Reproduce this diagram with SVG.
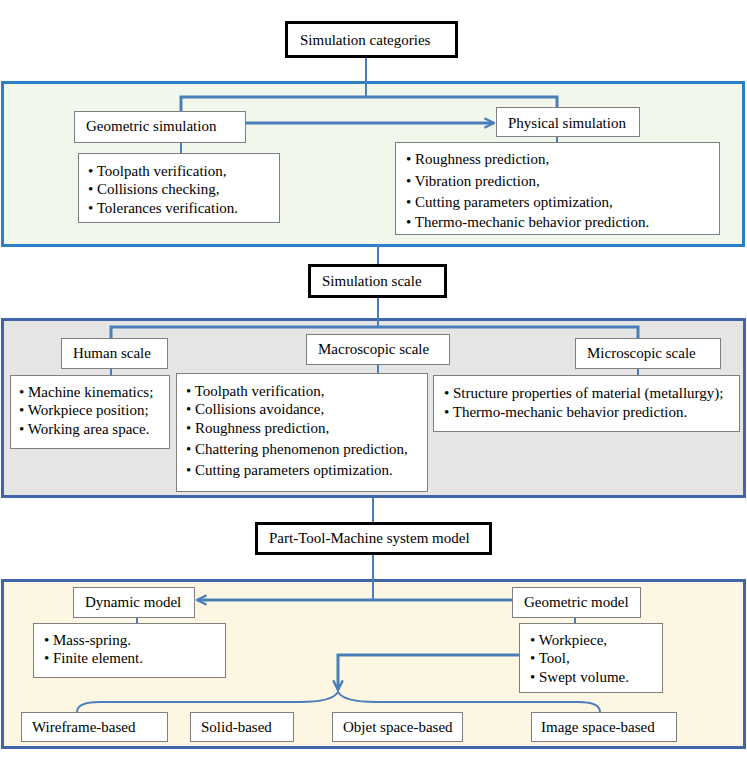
<svg xmlns="http://www.w3.org/2000/svg" width="747" height="762" viewBox="0 0 747 762">
<defs>
<marker id="ah" viewBox="0 0 10 10" refX="9" refY="5" markerWidth="4" markerHeight="4" orient="auto" markerUnits="strokeWidth">
<path d="M1,1 L9,5 L1,9" fill="none" stroke="#4a7ebb" stroke-width="2"/>
</marker>
</defs>
<style>
text{font-family:"Liberation Serif","Times New Roman",serif;font-size:15px;fill:#000}
.title{fill:#fff;stroke:#000;stroke-width:3}
.box{fill:#fff;stroke:#7f7f7f;stroke-width:1}
.con{fill:none;stroke:#4a7ebb;stroke-width:3}
.thin{fill:none;stroke:#4a7ebb;stroke-width:2}
</style>
<rect width="747" height="762" fill="#fff"/>
<g id="container-categories"><rect x="2.5" y="82.5" width="741" height="163" fill="#f2f7ec" stroke="#2b7fc9" stroke-width="3"/></g>
<g id="container-scale"><rect x="2.5" y="319.5" width="742" height="177" fill="#e5e5e5" stroke="#3e66a8" stroke-width="3"/></g>
<g id="container-model"><rect x="2.5" y="580.5" width="742" height="167" fill="#fdf6e3" stroke="#3e66a8" stroke-width="3"/></g>
<g id="connectors">
<path class="thin" d="M366,56 V97"/>
<path class="con" d="M181,111 V97 H557 V108"/>
<path class="con" d="M246,123 H494" marker-end="url(#ah)"/>
<path class="thin" d="M181,143 V153"/>
<path class="thin" d="M557,137 V143"/>
<path class="thin" d="M378,245 V265"/>
<path class="thin" d="M378,297 V327"/>
<path class="con" d="M111,338 V327 H638 V338"/>
<path class="thin" d="M111,368 V375"/>
<path class="thin" d="M378,364 V373"/>
<path class="thin" d="M638,368 V375"/>
<path class="thin" d="M373,497 V523"/>
<path class="thin" d="M373,553 V600"/>
<path class="con" d="M512,600 H197" marker-end="url(#ah)"/>
<path class="thin" d="M137,617 V623"/>
<path class="thin" d="M575,617 V623"/>
<path class="con" d="M520,655 H338 V690" marker-end="url(#ah)"/>
<path class="thin" d="M77,712 Q77,702 100,702 H300 Q332,702 338,692 Q344,702 376,702 H578 Q600,702 600,712"/>
</g>
<g id="simulation-categories"><rect class="title" x="286.5" y="22.5" width="170" height="34"/><text x="300" y="45">Simulation categories</text></g>
<g id="geometric-simulation"><rect class="box" x="74.5" y="111.5" width="171" height="31"/><text x="86" y="131">Geometric simulation</text></g>
<g id="physical-simulation"><rect class="box" x="496.5" y="107.5" width="143" height="29"/><text x="508" y="128">Physical simulation</text></g>
<g id="geometric-list"><rect class="box" x="78.5" y="153.5" width="201" height="69"/>
<text x="88" y="176">• Toolpath verification,</text>
<text x="88" y="194">• Collisions checking,</text>
<text x="88" y="213">• Tolerances verification.</text></g>
<g id="physical-list"><rect class="box" x="395.5" y="142.5" width="324" height="92"/>
<text x="406" y="164">• Roughness prediction,</text>
<text x="406" y="186">• Vibration prediction,</text>
<text x="406" y="207">• Cutting parameters optimization,</text>
<text x="406" y="227">• Thermo-mechanic behavior prediction.</text></g>
<g id="simulation-scale"><rect class="title" x="309.5" y="265.5" width="136" height="31"/><text x="322" y="286">Simulation scale</text></g>
<g id="human-scale"><rect class="box" x="61.5" y="338.5" width="106" height="30"/><text x="73" y="358">Human scale</text></g>
<g id="macroscopic-scale"><rect class="box" x="306.5" y="334.5" width="143" height="30"/><text x="318" y="354">Macroscopic scale</text></g>
<g id="microscopic-scale"><rect class="box" x="575.5" y="338.5" width="145" height="30"/><text x="587" y="358">Microscopic scale</text></g>
<g id="human-list"><rect class="box" x="10.5" y="375.5" width="159" height="73"/>
<text x="19" y="397">• Machine kinematics;</text>
<text x="19" y="415">• Workpiece position;</text>
<text x="19" y="434">• Working area space.</text></g>
<g id="macro-list"><rect class="box" x="176.5" y="373.5" width="251" height="118"/>
<text x="186" y="396">• Toolpath verification,</text>
<text x="186" y="414">• Collisions avoidance,</text>
<text x="186" y="433">• Roughness prediction,</text>
<text x="186" y="454">• Chattering phenomenon prediction,</text>
<text x="186" y="475">• Cutting parameters optimization.</text></g>
<g id="micro-list"><rect class="box" x="433.5" y="375.5" width="306" height="56"/>
<text x="444" y="398">• Structure properties of material (metallurgy);</text>
<text x="444" y="417">• Thermo-mechanic behavior prediction.</text></g>
<g id="part-tool-machine"><rect class="title" x="256.5" y="523.5" width="234" height="30"/><text x="269" y="543">Part-Tool-Machine system model</text></g>
<g id="dynamic-model"><rect class="box" x="73.5" y="587.5" width="121" height="30"/><text x="85" y="607">Dynamic model</text></g>
<g id="geometric-model"><rect class="box" x="512.5" y="587.5" width="128" height="30"/><text x="524" y="607">Geometric model</text></g>
<g id="dynamic-list"><rect class="box" x="33.5" y="623.5" width="192" height="54"/>
<text x="44" y="645">• Mass-spring.</text>
<text x="44" y="663">• Finite element.</text></g>
<g id="geometric-model-list"><rect class="box" x="519.5" y="623.5" width="143" height="69"/>
<text x="530" y="645">• Workpiece,</text>
<text x="530" y="663">• Tool,</text>
<text x="530" y="682">• Swept volume.</text></g>
<g id="wireframe"><rect class="box" x="21.5" y="712.5" width="146" height="29"/><text x="32" y="732">Wireframe-based</text></g>
<g id="solid"><rect class="box" x="190.5" y="712.5" width="103" height="29"/><text x="201" y="732">Solid-based</text></g>
<g id="objet-space"><rect class="box" x="332.5" y="712.5" width="130" height="29"/><text x="343" y="732">Objet space-based</text></g>
<g id="image-space"><rect class="box" x="531.5" y="712.5" width="145" height="29"/><text x="541" y="732">Image space-based</text></g>
</svg>
